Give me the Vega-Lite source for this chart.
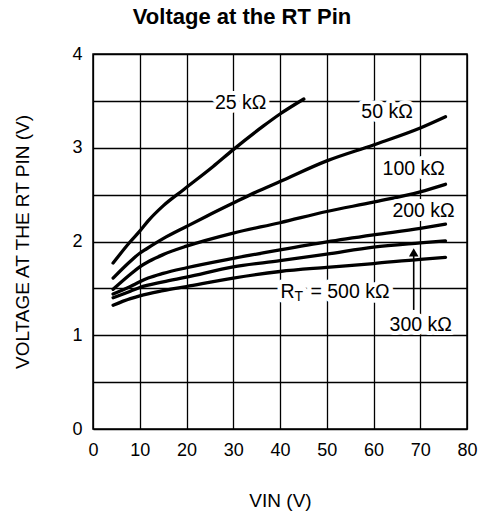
{
  "$schema": "https://vega.github.io/schema/vega-lite/v6.json",
  "width": 374,
  "height": 375,
  "autosize": {"type": "none"},
  "padding": {"left": 93, "top": 54, "right": 16, "bottom": 86},
  "background": "white",
  "title": {"text": "Voltage at the RT Pin", "fontSize": 22, "fontWeight": "bold", "font": "Liberation Sans", "color": "black", "anchor": "middle", "dx": -38, "offset": 16},
  "config": {"font": "Liberation Sans", "view": {"stroke": "black", "strokeWidth": 1.5}},
  "datasets": {
    "curves": [
      {"rt": "25k", "vin": 4.3, "v": 1.77}, {"rt": "25k", "vin": 8, "v": 2.0}, {"rt": "25k", "vin": 10, "v": 2.11}, {"rt": "25k", "vin": 11.8, "v": 2.22}, {"rt": "25k", "vin": 15, "v": 2.38}, {"rt": "25k", "vin": 19.3, "v": 2.55}, {"rt": "25k", "vin": 25.7, "v": 2.8}, {"rt": "25k", "vin": 30, "v": 2.98}, {"rt": "25k", "vin": 36.4, "v": 3.23}, {"rt": "25k", "vin": 40, "v": 3.36}, {"rt": "25k", "vin": 45.1, "v": 3.52},
      {"rt": "50k", "vin": 4.3, "v": 1.61}, {"rt": "50k", "vin": 8, "v": 1.79}, {"rt": "50k", "vin": 10, "v": 1.875}, {"rt": "50k", "vin": 11.4, "v": 1.92}, {"rt": "50k", "vin": 15, "v": 2.03}, {"rt": "50k", "vin": 20, "v": 2.16}, {"rt": "50k", "vin": 24.3, "v": 2.27}, {"rt": "50k", "vin": 30, "v": 2.41}, {"rt": "50k", "vin": 35, "v": 2.53}, {"rt": "50k", "vin": 40, "v": 2.64}, {"rt": "50k", "vin": 50, "v": 2.86}, {"rt": "50k", "vin": 60, "v": 3.03}, {"rt": "50k", "vin": 70, "v": 3.21}, {"rt": "50k", "vin": 75.4, "v": 3.33},
      {"rt": "100k", "vin": 4.3, "v": 1.49}, {"rt": "100k", "vin": 8, "v": 1.65}, {"rt": "100k", "vin": 10, "v": 1.73}, {"rt": "100k", "vin": 12, "v": 1.79}, {"rt": "100k", "vin": 15, "v": 1.86}, {"rt": "100k", "vin": 20, "v": 1.95}, {"rt": "100k", "vin": 30, "v": 2.09}, {"rt": "100k", "vin": 40, "v": 2.2}, {"rt": "100k", "vin": 50, "v": 2.32}, {"rt": "100k", "vin": 60, "v": 2.42}, {"rt": "100k", "vin": 70, "v": 2.53}, {"rt": "100k", "vin": 75.4, "v": 2.61},
      {"rt": "200k", "vin": 4.3, "v": 1.44}, {"rt": "200k", "vin": 8, "v": 1.52}, {"rt": "200k", "vin": 10, "v": 1.57}, {"rt": "200k", "vin": 11.8, "v": 1.61}, {"rt": "200k", "vin": 15, "v": 1.66}, {"rt": "200k", "vin": 20, "v": 1.72}, {"rt": "200k", "vin": 30, "v": 1.82}, {"rt": "200k", "vin": 40, "v": 1.91}, {"rt": "200k", "vin": 50, "v": 1.995}, {"rt": "200k", "vin": 60, "v": 2.07}, {"rt": "200k", "vin": 70, "v": 2.14}, {"rt": "200k", "vin": 75.4, "v": 2.185},
      {"rt": "300k", "vin": 4.3, "v": 1.4}, {"rt": "300k", "vin": 8, "v": 1.47}, {"rt": "300k", "vin": 10, "v": 1.51}, {"rt": "300k", "vin": 15, "v": 1.57}, {"rt": "300k", "vin": 20, "v": 1.62}, {"rt": "300k", "vin": 30, "v": 1.73}, {"rt": "300k", "vin": 40, "v": 1.795}, {"rt": "300k", "vin": 50, "v": 1.865}, {"rt": "300k", "vin": 60, "v": 1.94}, {"rt": "300k", "vin": 70, "v": 1.985}, {"rt": "300k", "vin": 75.4, "v": 2.007},
      {"rt": "500k", "vin": 4.3, "v": 1.32}, {"rt": "500k", "vin": 8, "v": 1.39}, {"rt": "500k", "vin": 10, "v": 1.42}, {"rt": "500k", "vin": 15, "v": 1.475}, {"rt": "500k", "vin": 20, "v": 1.52}, {"rt": "500k", "vin": 30, "v": 1.61}, {"rt": "500k", "vin": 40, "v": 1.68}, {"rt": "500k", "vin": 50, "v": 1.724}, {"rt": "500k", "vin": 60, "v": 1.765}, {"rt": "500k", "vin": 70, "v": 1.81}, {"rt": "500k", "vin": 75.4, "v": 1.83}
    ],
    "labels": [
      {"text": "25 kΩ", "vin": 31.6, "v": 3.48},
      {"text": "50 kΩ", "vin": 62.9, "v": 3.384},
      {"text": "100 kΩ", "vin": 68.6, "v": 2.775},
      {"text": "200 kΩ", "vin": 70.7, "v": 2.327},
      {"text": "300 kΩ", "vin": 70.1, "v": 1.107}
    ],
    "rt": [{"vin": 40.1, "v": 1.463}],
    "arrow": [{"vin": 68.6, "v1": 1.27, "v2": 1.86, "tip": 1.885}]
  },
  "encoding": {
    "x": {"field": "vin", "type": "quantitative", "scale": {"domain": [0, 80], "nice": false},
      "axis": {"values": [0, 10, 20, 30, 40, 50, 60, 70, 80], "grid": true, "gridColor": "black", "gridWidth": 1.3, "gridOpacity": 1, "domain": false, "ticks": false, "labelFontSize": 18, "labelColor": "black", "labelPadding": 12, "labelFlush": false, "title": "VIN (V)", "titleFontSize": 19, "titleFontWeight": "normal", "titleColor": "black", "titleY": 71, "titleBaseline": "middle"}},
    "y": {"field": "v", "type": "quantitative", "scale": {"domain": [0, 4], "nice": false},
      "axis": {"values": [0, 0.5, 1, 1.5, 2, 2.5, 3, 3.5, 4], "labelExpr": "datum.value % 1 == 0 ? format(datum.value, 'd') : ''", "grid": true, "gridColor": "black", "gridWidth": 1.3, "gridOpacity": 1, "domain": false, "ticks": false, "labelFontSize": 18, "labelColor": "black", "labelPadding": 11, "labelFlush": false, "title": "VOLTAGE AT THE RT PIN (V)", "titleFontSize": 19, "titleFontWeight": "normal", "titleColor": "black", "titleX": -71, "titleY": 187.5, "titleAngle": -90, "titleAlign": "center", "titleBaseline": "middle"}}
  },
  "layer": [
    {"data": {"name": "curves"}, "mark": {"type": "line", "color": "black", "strokeWidth": 3.3, "interpolate": "monotone", "strokeCap": "round"}, "encoding": {"detail": {"field": "rt"}}},
    {"data": {"name": "labels"}, "mark": {"type": "text", "fontSize": 19.5, "fill": "white", "stroke": "white", "strokeWidth": 8, "strokeJoin": "round", "align": "center", "baseline": "middle"}, "encoding": {"text": {"field": "text"}}},
    {"data": {"name": "labels"}, "mark": {"type": "text", "fontSize": 19.5, "color": "black", "align": "center", "baseline": "middle"}, "encoding": {"text": {"field": "text"}}},
    {"data": {"name": "rt"}, "mark": {"type": "text", "text": "R", "fontSize": 19.5, "fill": "white", "stroke": "white", "strokeWidth": 9, "strokeJoin": "round", "align": "left", "baseline": "middle"}, "encoding": {}},
    {"data": {"name": "rt"}, "mark": {"type": "text", "text": "T", "fontSize": 14, "fill": "white", "stroke": "white", "strokeWidth": 9, "strokeJoin": "round", "align": "left", "baseline": "middle", "dx": 14, "dy": 5}, "encoding": {}},
    {"data": {"name": "rt"}, "mark": {"type": "text", "text": "= 500 kΩ", "fontSize": 19.5, "fill": "white", "stroke": "white", "strokeWidth": 9, "strokeJoin": "round", "align": "left", "baseline": "middle", "dx": 30}, "encoding": {}},
    {"data": {"name": "rt"}, "mark": {"type": "text", "text": "R", "fontSize": 19.5, "color": "black", "align": "left", "baseline": "middle"}, "encoding": {}},
    {"data": {"name": "rt"}, "mark": {"type": "text", "text": "T", "fontSize": 14, "color": "black", "align": "left", "baseline": "middle", "dx": 14, "dy": 5}, "encoding": {}},
    {"data": {"name": "rt"}, "mark": {"type": "text", "text": "= 500 kΩ", "fontSize": 19.5, "color": "black", "align": "left", "baseline": "middle", "dx": 30}, "encoding": {}},
    {"data": {"name": "arrow"}, "mark": {"type": "rule", "color": "black", "strokeWidth": 1.6}, "encoding": {"y": {"field": "v1", "type": "quantitative"}, "y2": {"field": "v2"}}},
    {"data": {"name": "arrow"}, "mark": {"type": "point", "shape": "triangle-up", "filled": true, "color": "black", "opacity": 1, "size": 90}, "encoding": {"y": {"field": "tip", "type": "quantitative"}}}
  ]
}
